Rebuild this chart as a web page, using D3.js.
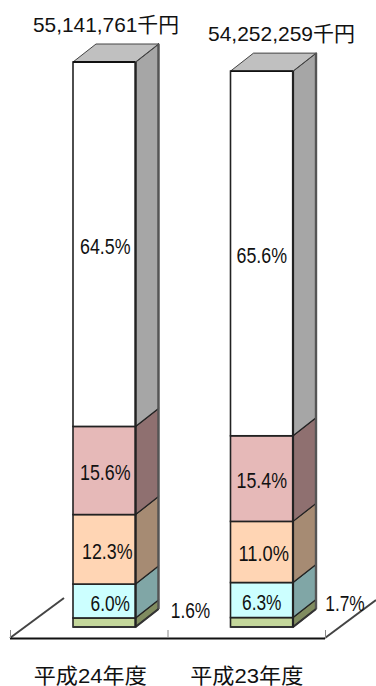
<!DOCTYPE html>
<html><head><meta charset="utf-8">
<script src="https://cdnjs.cloudflare.com/ajax/libs/d3/7.8.5/d3.min.js"></script>
<style>html,body{margin:0;padding:0;background:#fff}svg{display:block}
text{font-family:"Liberation Sans","Noto Sans CJK JP",sans-serif;fill:#111}</style>
</head><body><svg id="c" width="376" height="686"></svg>
<script>
const categories = ["平成24年度","平成23年度"];
const totals = [55141761,54252259];
const totalLabels = ["55,141,761千円","54,252,259千円"];
const seriesBottom = [1.6,1.7];
const seriesCyan = [6.0,6.3];
const seriesPeach = [12.3,11.0];
const seriesPink = [15.6,15.4];
const seriesWhite = [64.5,65.6];
const seriesList = [seriesBottom,seriesCyan,seriesPeach,seriesPink,seriesWhite];
const frontColors = ["#c4d79b","#ccffff","#ffd5b4","#e6b9b8","#ffffff"];
const sideColors = ["#808c60","#80a6a6","#a68b73","#8f7070","#a6a6a6"];

const svg = d3.select("#c");
const x = d3.scaleBand().domain(categories).range([10,325]);
const y = d3.scaleLinear().domain([0,55141761]).range([627,62]);
const dx = 23, dy = -18;
const barInset = 63, barW = 62.5;
const line = d3.line();

// floor
const fx0 = x.range()[0], fx1 = x.range()[1], fy = 638;
const floor = svg.append("g");
floor.append("path").attr("d",line([[fx0,fy],[fx0+54,fy-40]])).attr("stroke","#444").attr("stroke-width",2).attr("fill","none");
floor.append("path").attr("d",line([[fx1,fy],[376,fy-38]])).attr("stroke","#444").attr("stroke-width",2).attr("fill","none");
floor.append("path").attr("d",line([[fx0,fy+0.5],[fx1,fy+0.5]])).attr("stroke","#111").attr("stroke-width",2.2).attr("fill","none");
[fx0,x(categories[1]),fx1].forEach(v=>floor.append("path").attr("d",line([[v+0.5,fy],[v+0.5,fy-8]])).attr("stroke","#888").attr("stroke-width",1));

function pctLabel(g,cx,by,t){
  g.append("text").attr("x",cx).attr("y",by).attr("font-size",22).attr("text-anchor","middle")
   .attr("textLength",t.length>4?50.5:39.5).attr("lengthAdjust","spacingAndGlyphs").text(t);
}

categories.forEach((c,i)=>{
  const g = svg.append("g");
  const xl = x(c)+barInset, xr = xl+barW;
  const cx = (xl+xr)/2;
  let cum = 0;
  const labels = [];
  seriesList.forEach((s,k)=>{
    const v0 = cum, v1 = cum + s[i]/100*totals[i]; cum = v1;
    const yb = y(v0), yt = y(v1);
    g.append("path").attr("d",line([[xr,yb],[xr+dx,yb+dy],[xr+dx,yt+dy],[xr,yt]])+"Z")
      .attr("fill",sideColors[k]).attr("stroke","#222").attr("stroke-width",1.2);
    g.append("rect").attr("x",xl).attr("y",yt).attr("width",barW).attr("height",yb-yt)
      .attr("fill",frontColors[k]).attr("stroke","#222").attr("stroke-width",1.6);
    labels.push({k,yb,yt,t:s[i].toFixed(1)+"%"});
    if(k===4){
      g.append("path").attr("d",line([[xl,yt],[xl+dx,yt+dy],[xr+dx,yt+dy],[xr,yt]])+"Z")
       .attr("fill","#c0c0c0").attr("stroke","#444").attr("stroke-width",1);
      g.append("path").attr("d",line([[xl,yt],[xr,yt]])).attr("stroke","#111").attr("stroke-width",1.8);
    }
  });
  // heavy rear edge and bottom edge
  g.append("path").attr("d",line([[xr+dx,y(0)+dy],[xr+dx,y(totals[i])+dy]])).attr("stroke","#555").attr("stroke-width",2.4);
  g.append("path").attr("d",line([[xl,y(0)],[xr,y(0)],[xr+dx,y(0)+dy]])).attr("stroke","#333").attr("stroke-width",2.2).attr("fill","none");
  g.append("path").attr("d",line([[xr,y(0)],[xr,y(totals[i])]])).attr("stroke","#222").attr("stroke-width",2.2);

  labels.forEach(l=>{
    const mid=(l.yb+l.yt)/2;
    if(l.k===0){
      pctLabel(g,xr+(i?52:55),i?611:618,l.t);
    } else {
      const nudge = i?(l.k===2?2:0):(l.k===1?6:l.k===2?3:1);
      pctLabel(g,cx+nudge,mid+9.5,l.t);
    }
  });
  g.append("text").attr("x",i?281.5:106).attr("y",i?40.5:32).attr("text-anchor","middle")
    .attr("font-size",21).attr("textLength",i?147:146).attr("lengthAdjust","spacingAndGlyphs").text(totalLabels[i]);
  g.append("text").attr("x",cx-14+(i?-1:0)).attr("y",683).attr("text-anchor","middle")
    .attr("font-size",21).attr("textLength",113).attr("lengthAdjust","spacingAndGlyphs").text(c);
});
</script></body></html>
